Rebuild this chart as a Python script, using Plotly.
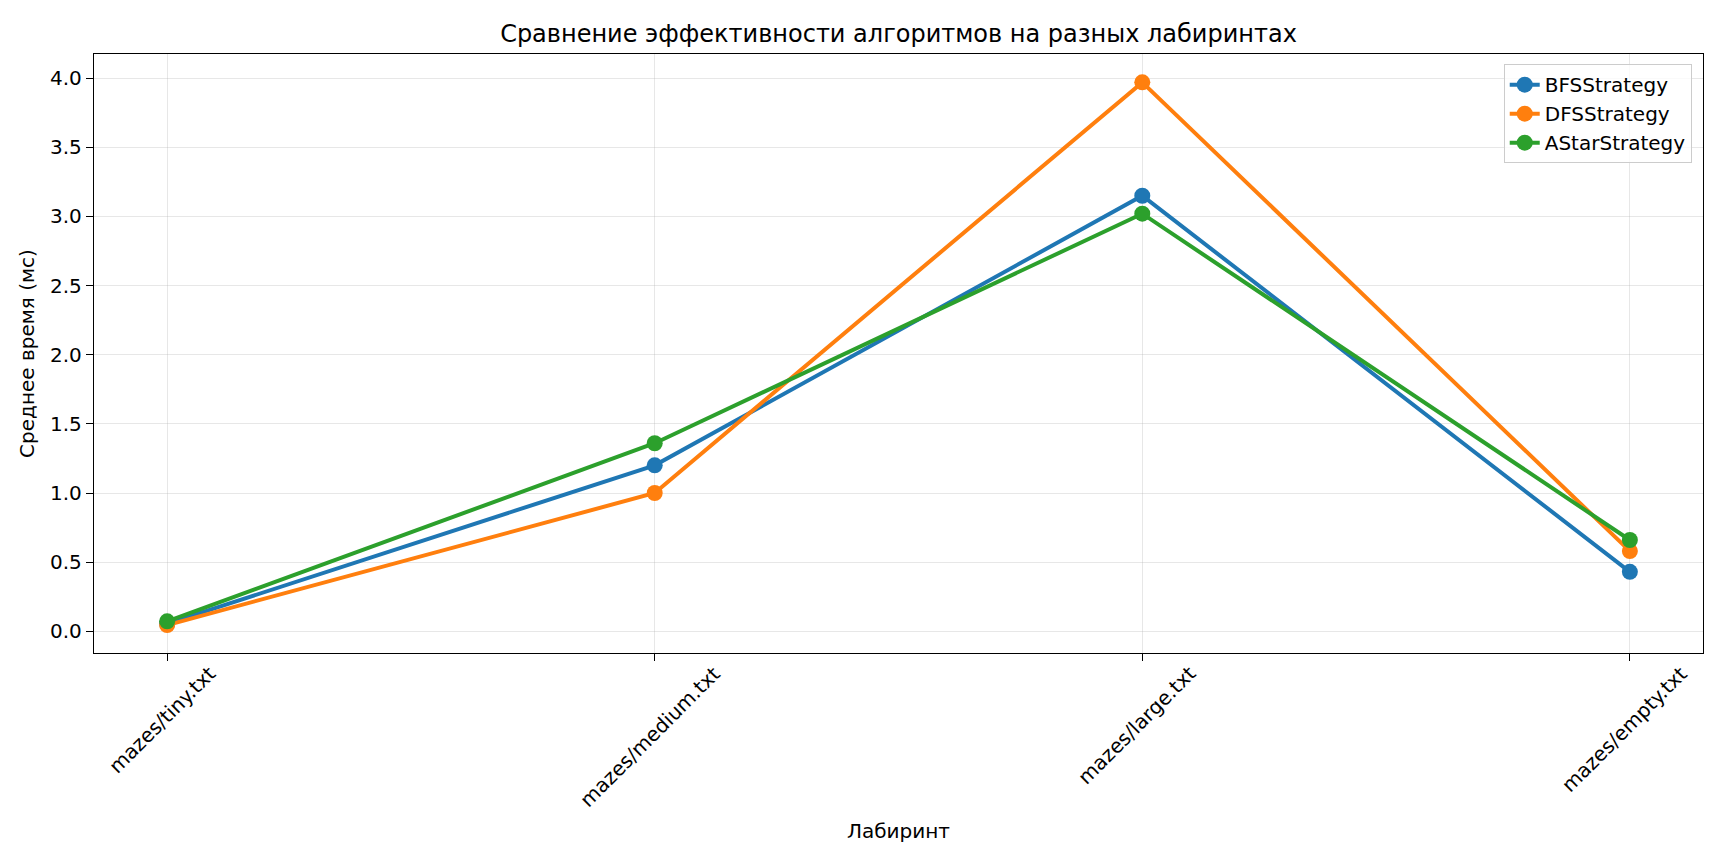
import plotly.graph_objects as go

# --- Data ---
mazes = ["mazes/tiny.txt", "mazes/medium.txt", "mazes/large.txt", "mazes/empty.txt"]
bfs_ms = [0.055, 1.20, 3.15, 0.43]
dfs_ms = [0.045, 1.00, 3.97, 0.58]
astar_ms = [0.072, 1.36, 3.02, 0.66]

series = [
    ("BFSStrategy", bfs_ms, "#1f77b4"),
    ("DFSStrategy", dfs_ms, "#ff7f0e"),
    ("AStarStrategy", astar_ms, "#2ca02c"),
]

FONT = "DejaVu Sans"
GRID = "rgba(176,176,176,0.3)"

fig = go.Figure()
idx = list(range(len(mazes)))
for name, vals, color in series:
    fig.add_trace(go.Scatter(
        x=idx, y=vals, name=name, mode="lines+markers",
        line=dict(color=color, width=4),
        marker=dict(color=color, size=16),
    ))

# rotated category labels, centred under each tick like matplotlib
for i, lab in enumerate(mazes):
    fig.add_annotation(
        x=i, y=0, xref="x", yref="paper", text=lab, showarrow=False,
        textangle=-45, xanchor="center", yanchor="top", yshift=-6, xshift=-5,
        font=dict(family=FONT, size=20, color="black"),
    )

fig.update_layout(
    width=1728, height=864,
    paper_bgcolor="white", plot_bgcolor="white",
    margin=dict(l=86, r=33, t=46, b=219),
    font=dict(family=FONT, size=20, color="black"),
    title=dict(text="Сравнение эффективности алгоритмов на разных лабиринтах",
               x=0.5, xref="paper", xanchor="center",
               y=1 - 26 / 864, yanchor="middle",
               font=dict(family=FONT, size=24, color="black")),
    legend=dict(x=0.993, y=0.983, xanchor="right", yanchor="top",
                bgcolor="rgba(255,255,255,0.8)", bordercolor="#cccccc",
                borderwidth=1, font=dict(family=FONT, size=20)),
    showlegend=True,
)

fig.update_xaxes(
    range=[-0.15, 3.15], tickvals=idx, showticklabels=False,
    ticks="outside", ticklen=7, tickwidth=1.3, tickcolor="black",
    showgrid=True, gridcolor=GRID, gridwidth=1.3, zeroline=False,
    showline=True, linecolor="black", linewidth=1.3, mirror=True,
    title=dict(text="Лабиринт", standoff=163, font=dict(family=FONT, size=20)),
)
fig.update_yaxes(
    range=[-0.157, 4.175], tickvals=[0, 0.5, 1, 1.5, 2, 2.5, 3, 3.5, 4],
    tickformat=".1f", ticks="outside", ticklen=7, tickwidth=1.3, tickcolor="black",
    showgrid=True, gridcolor=GRID, gridwidth=1.3, zeroline=False,
    showline=True, linecolor="black", linewidth=1.3, mirror=True,
    tickfont=dict(family=FONT, size=20),
    title=dict(text="Среднее время (мс)", standoff=10, font=dict(family=FONT, size=20)),
)

fig.write_html("out.html")
